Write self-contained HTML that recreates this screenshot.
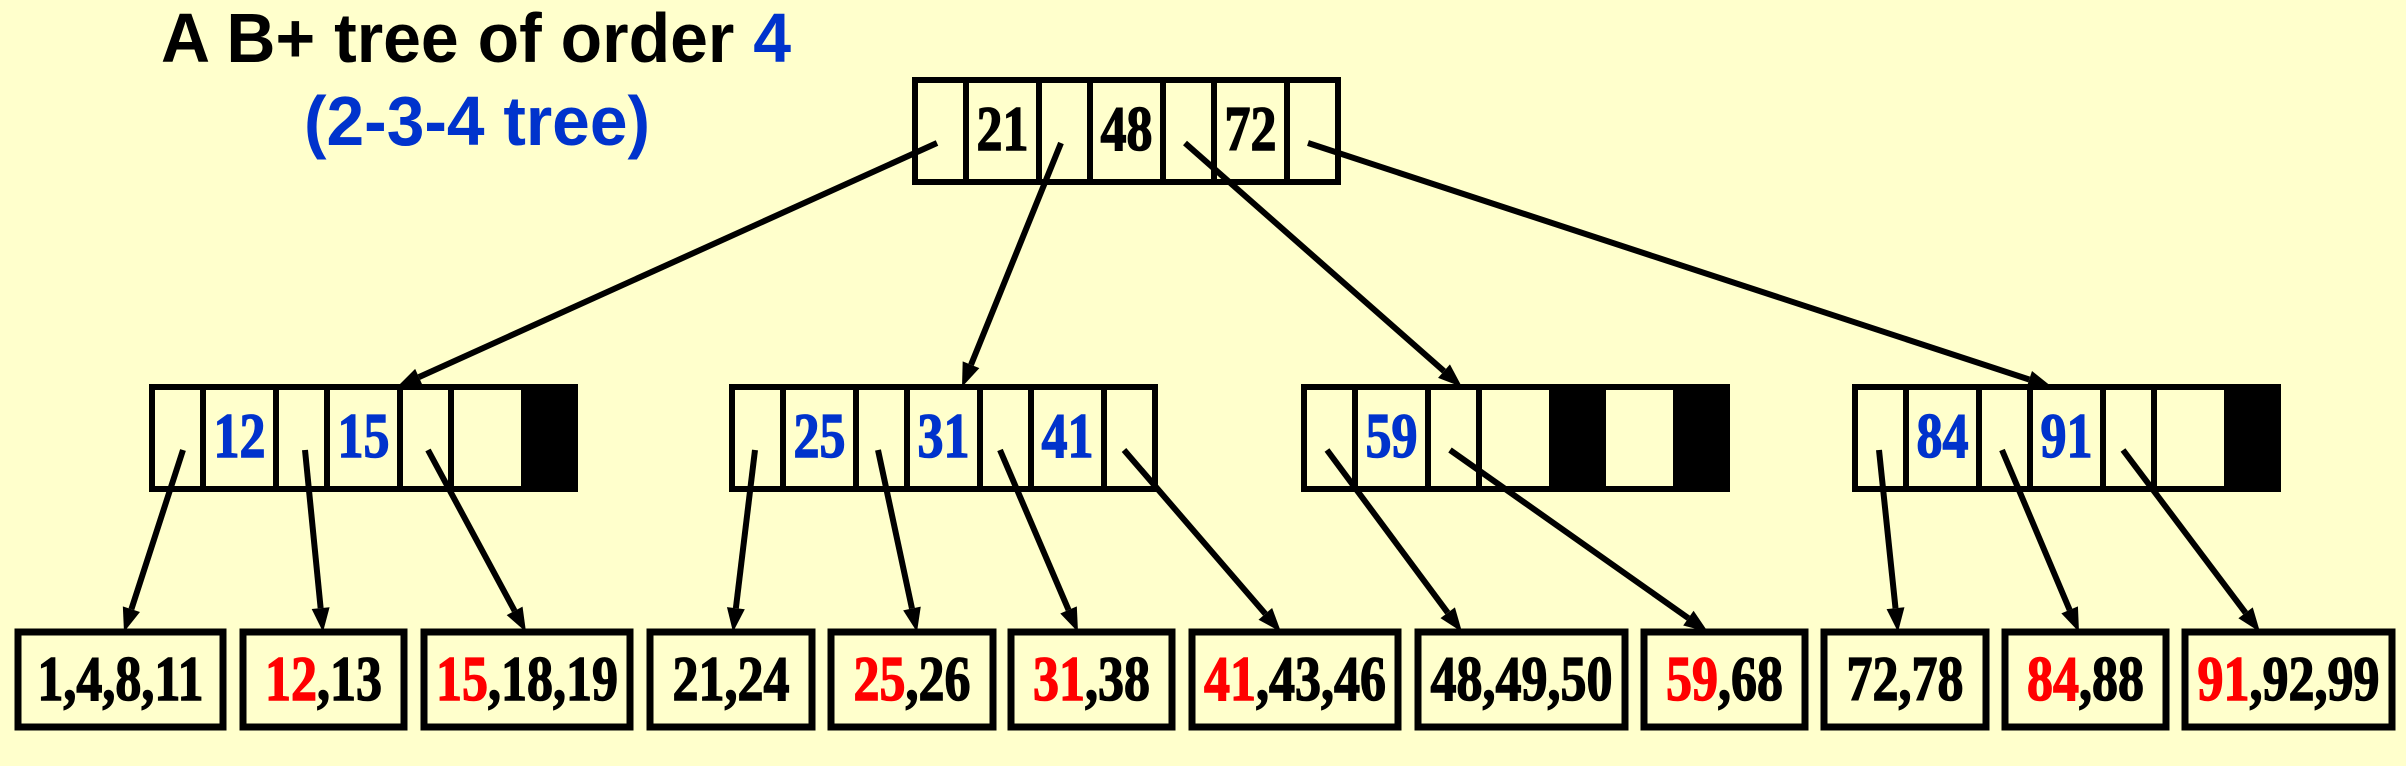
<!DOCTYPE html>
<html><head><meta charset="utf-8"><style>
html,body{margin:0;padding:0;background:#ffffcc;}
svg{display:block;}
text{font-family:"Liberation Serif",serif;font-weight:bold;}
.t{font-family:"Liberation Sans",sans-serif;font-weight:bold;}
</style></head><body>
<svg id="chart" width="2406" height="766" viewBox="0 0 2406 766" xmlns="http://www.w3.org/2000/svg">
<rect width="2406" height="766" fill="#ffffcc"/>
<text class="t" x="161" y="62" font-size="70" fill="#000" textLength="630" lengthAdjust="spacingAndGlyphs">A B+ tree of order <tspan fill="#0033cc">4</tspan></text>
<text class="t" x="304" y="145" font-size="70" fill="#0033cc" textLength="346" lengthAdjust="spacingAndGlyphs">(2-3-4 tree)</text>
<g id="edges"></g><g id="nodes"></g>
</svg>
<script>
const rootKeys = ["21","48","72"];
const innerKeys = [["12","15"],["25","31","41"],["59"],["84","91"]];
const innerSlots = [[true,true,true,false],[true,true,true,true],[true,true,false,false],[true,true,true,false]];
const leafFirst = ["1","12","15","21","25","31","41","48","59","72","84","91"];
const leafRest = [",4,8,11",",13",",18,19",",24",",26",",38",",43,46",",49,50",",68",",78",",88",",92,99"];
const leafRed = [false,true,true,false,true,true,true,false,true,false,true,true];

const NS="http://www.w3.org/2000/svg";
const eg=document.getElementById('edges'), ng=document.getElementById('nodes');
function mk(tag,attrs,parent){const e=document.createElementNS(NS,tag);for(const k in attrs)e.setAttribute(k,attrs[k]);parent.appendChild(e);return e;}
const P=51,K=73;
function cellX(x0,i){let x=x0;for(let j=0;j<i;j++)x+=(j%2==0)?P:K;return x;}
function condensedText(parent,x,y,fill,anchor){
  const t=mk('text',{x:0,y:0,'font-size':52,'text-anchor':anchor,fill:fill,stroke:fill,'stroke-width':1.2,transform:`translate(${x},${y}) scale(1.0,1.22)`},parent);
  return t;
}
function drawNode(x0,y0,keys,slots,name){
  const g=mk('g',{},ng);
  
  
  for(let i=0;i<7;i++){
    const w=(i%2==0)?P:K, x=cellX(x0,i);
    const black=(i%2==0)&&!slots[i/2];
    const r=mk('rect',{x:x,y:y0,width:w,height:102,fill:black?'#000':'none',stroke:'#000','stroke-width':6},g);
    
    
    if(i%2==1&&keys[(i-1)/2]){
      const t=condensedText(g,x+w/2,y0+70,name==='root-node'?'#000':'#0033cc','middle');
      t.textContent=keys[(i-1)/2];
      
      
    }
  }
}
function arrow(x1,y1,x2,y2){
  const g=mk('g',{},eg);
  
  
  const dx=x2-x1,dy=y2-y1,L=Math.hypot(dx,dy),ux=dx/L,uy=dy/L;
  const hl=24,hw=9;
  const bx=x2-ux*hl,by=y2-uy*hl;
  mk('line',{x1:x1,y1:y1,x2:bx,y2:by,stroke:'#000','stroke-width':6},g);
  mk('polygon',{points:`${x2},${y2} ${bx-uy*hw},${by+ux*hw} ${bx+uy*hw},${by-ux*hw}`,fill:'#000'},g);
}
const rootX=915, rootY=80;
drawNode(rootX,rootY,rootKeys,[true,true,true,true],'root-node');
const innerX=[152,732,1304,1855], innerY=387;
const leafX=[18,243,424,650,831,1011,1192,1418,1644,1824,2005,2185];
const leafW=[205,161,206,162,162,161,206,207,161,162,161,207];
const leafY=632, leafH=95;
innerKeys.forEach((k,i)=>drawNode(innerX[i],innerY,k,innerSlots[i],'internal-node-'+(i+1)));
const rootStarts=[937,1061,1185,1308];
const rootTargets=[397,962,1462,2052];
rootTargets.forEach((tx,i)=>arrow(rootStarts[i],143,tx,innerY));
const leafStarts=[[183,305,428],[755,878,1000,1124],[1327,1450],[1879,2002,2123]];
const leafEnds=[[124,323,526],[733,917,1078,1281],[1462,1708],[1898,2079,2260]];
leafStarts.forEach((arr,i)=>arr.forEach((sx,j)=>arrow(sx,450,leafEnds[i][j],leafY)));
leafFirst.forEach((f,i)=>{
  const g=mk('g',{},ng);
  
  
  mk('rect',{x:leafX[i],y:leafY,width:leafW[i],height:leafH,fill:'none',stroke:'#000','stroke-width':7},g);
  const t=condensedText(g,leafX[i]+leafW[i]/2,leafY+68,'#000','middle');
  
  
  const a=mk('tspan',{fill:leafRed[i]?'#ff0000':'#000',stroke:leafRed[i]?'#ff0000':'#000'},t);a.textContent=f;
  const b=mk('tspan',{},t);b.textContent=leafRest[i];
});
</script>
</body></html>
